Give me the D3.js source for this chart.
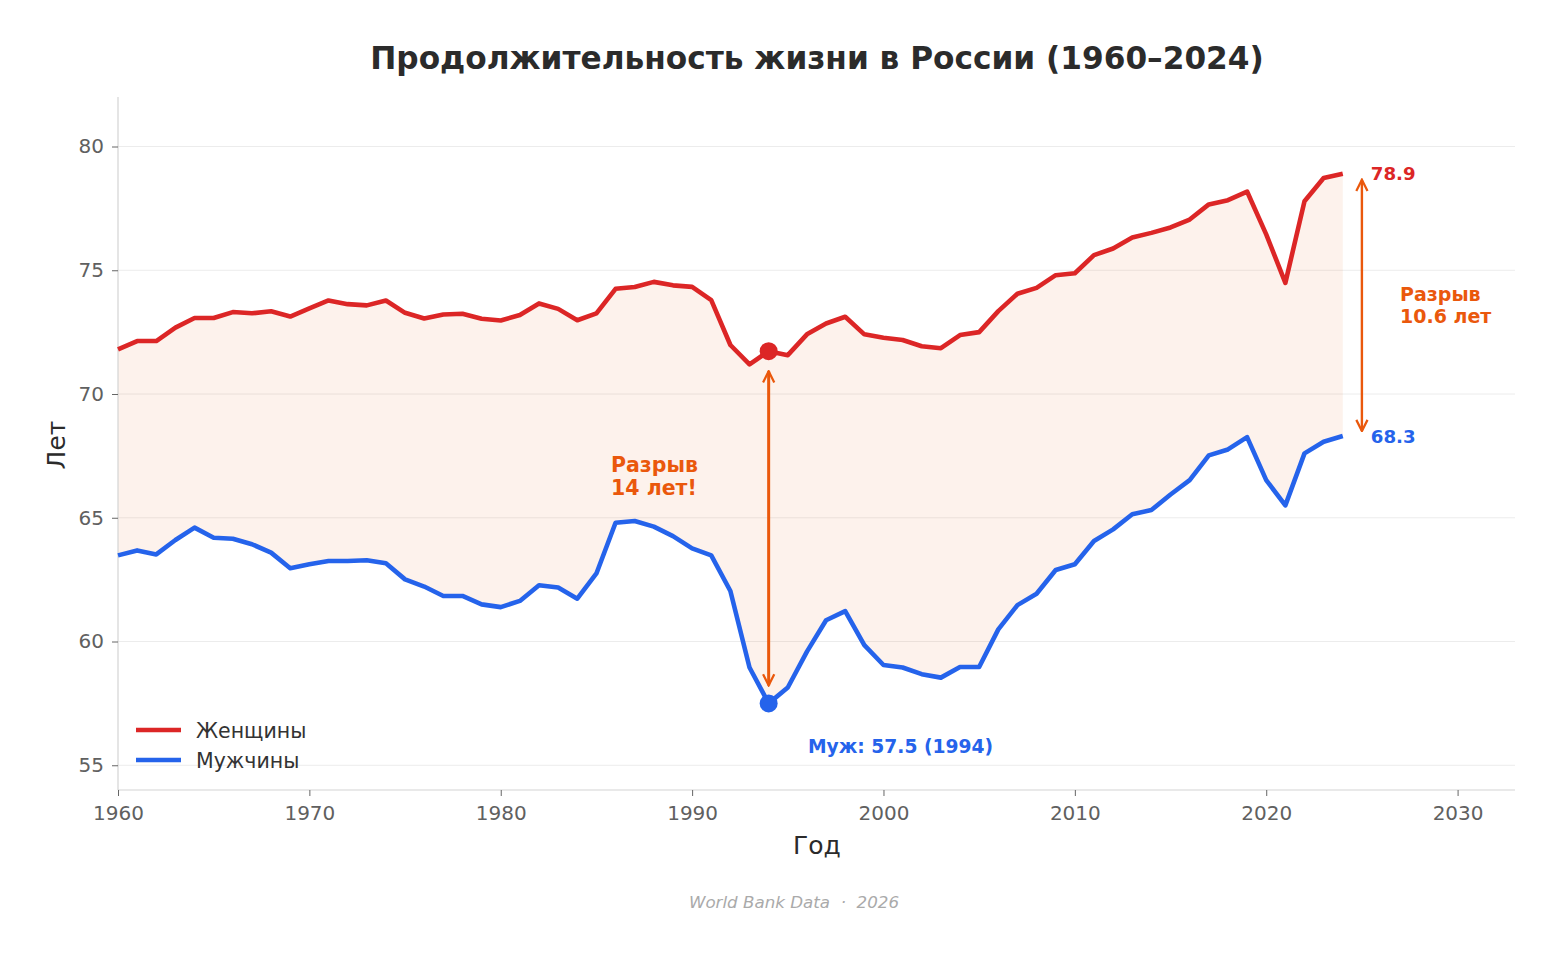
<!DOCTYPE html>
<html>
<head>
<meta charset="utf-8">
<script src="https://cdn.jsdelivr.net/npm/d3@7"></script>
<style>
  body { margin: 0; background: #fff; }
  svg { display: block; font-family: "DejaVu Sans", sans-serif; }
</style>
</head>
<body>
<svg id="chart" width="1560" height="956"></svg>
<script>
// Data
var years = d3.range(1960, 2025);
var female = [71.80, 72.14, 72.14, 72.68, 73.07, 73.07, 73.31, 73.26, 73.34, 73.13,
              73.46, 73.78, 73.63, 73.58, 73.78, 73.28, 73.05, 73.21, 73.24, 73.04,
              72.97, 73.19, 73.66, 73.44, 72.98, 73.26, 74.25, 74.32, 74.53, 74.39,
              74.33, 73.79, 71.98, 71.20, 71.73, 71.57, 72.41, 72.85, 73.12, 72.41,
              72.27, 72.18, 71.93, 71.85, 72.38, 72.50, 73.35, 74.05, 74.29, 74.80,
              74.88, 75.61, 75.88, 76.32, 76.51, 76.73, 77.05, 77.66, 77.83, 78.18,
              76.45, 74.49, 77.79, 78.73, 78.90];
var male = [63.48, 63.68, 63.52, 64.10, 64.60, 64.19, 64.15, 63.93, 63.59, 62.96,
            63.12, 63.25, 63.25, 63.28, 63.16, 62.51, 62.22, 61.84, 61.84, 61.50,
            61.39, 61.64, 62.27, 62.18, 61.73, 62.75, 64.80, 64.87, 64.64, 64.26,
            63.76, 63.48, 62.04, 58.95, 57.50, 58.14, 59.59, 60.86, 61.23, 59.85,
            59.05, 58.95, 58.68, 58.54, 58.97, 58.97, 60.49, 61.47, 61.93, 62.89,
            63.12, 64.06, 64.53, 65.14, 65.31, 65.94, 66.52, 67.52, 67.76, 68.26,
            66.52, 65.50, 67.60, 68.07, 68.30];
var seriesNames = ["Женщины", "Мужчины"];
var xTicks = [1960, 1970, 1980, 1990, 2000, 2010, 2020, 2030];
var yTicks = [55, 60, 65, 70, 75, 80];

var colF = "#dc2626", colM = "#2563eb", colGap = "#ea580c";

var svg = d3.select("#chart");
var L = 118, R = 1515, T = 97, B = 790;

var x = d3.scaleLinear().domain([1960, 2033]).range([L, R]);
var y = d3.scaleLinear().domain([54, 82]).range([B, T]);

var rows = years.map(function(yr, i) { return { yr: yr, f: female[i], m: male[i] }; });

// grid
svg.append("g").selectAll("line").data(yTicks).enter().append("line")
  .attr("x1", L).attr("x2", R)
  .attr("y1", function(d) { return y(d); }).attr("y2", function(d) { return y(d); })
  .attr("stroke", "#ececec").attr("stroke-width", 1);

// gap area
var area = d3.area()
  .x(function(d) { return x(d.yr); })
  .y0(function(d) { return y(d.m); })
  .y1(function(d) { return y(d.f); });
svg.append("path").datum(rows).attr("d", area)
  .attr("fill", colGap).attr("fill-opacity", 0.08);

// axes
var xAxis = svg.append("g").attr("transform", "translate(0," + B + ")")
  .call(d3.axisBottom(x).tickValues(xTicks).tickFormat(d3.format("d")).tickSizeOuter(0).tickSize(6).tickPadding(10));
var yAxis = svg.append("g").attr("transform", "translate(" + L + ",0)")
  .call(d3.axisLeft(y).tickValues(yTicks).tickSizeOuter(0).tickSize(6).tickPadding(8));
[xAxis, yAxis].forEach(function(a) {
  a.select(".domain").attr("stroke", "#d4d4d4").attr("stroke-width", 1.2);
  a.selectAll(".tick line").attr("stroke", "#666");
  a.selectAll(".tick text").attr("fill", "#606060").style("font-size", "20px")
    .style("font-family", "DejaVu Sans");
});
yAxis.select(".domain").attr("d", "M0," + T + "V" + B);
xAxis.select(".domain").attr("d", "M" + L + ",0H" + R);

// lines
var lineF = d3.line().x(function(d) { return x(d.yr); }).y(function(d) { return y(d.f); });
var lineM = d3.line().x(function(d) { return x(d.yr); }).y(function(d) { return y(d.m); });
svg.append("path").datum(rows).attr("d", lineF)
  .attr("fill", "none").attr("stroke", colF).attr("stroke-width", 4.6).attr("stroke-linejoin", "round");
svg.append("path").datum(rows).attr("d", lineM)
  .attr("fill", "none").attr("stroke", colM).attr("stroke-width", 4.6).attr("stroke-linejoin", "round");

// arrow head
var defs = svg.append("defs");
defs.append("marker").attr("id", "ah").attr("viewBox", "0 0 10 10")
  .attr("refX", 9).attr("refY", 5).attr("markerWidth", 14).attr("markerHeight", 14)
  .attr("markerUnits", "userSpaceOnUse").attr("orient", "auto-start-reverse")
  .append("path").attr("d", "M1,1L9,5L1,9").attr("fill", "none")
  .attr("stroke", colGap).attr("stroke-width", 1.6);

// 1994 gap arrow
var i94 = years.indexOf(1994);
svg.append("line")
  .attr("x1", x(1994)).attr("x2", x(1994))
  .attr("y1", y(female[i94]) + 20).attr("y2", y(male[i94]) - 18)
  .attr("stroke", colGap).attr("stroke-width", 3)
  .attr("marker-start", "url(#ah)").attr("marker-end", "url(#ah)");

svg.append("circle").attr("cx", x(1994)).attr("cy", y(female[i94])).attr("r", 9).attr("fill", colF);
svg.append("circle").attr("cx", x(1994)).attr("cy", y(male[i94])).attr("r", 9).attr("fill", colM);

// 2025 gap arrow
var iEnd = years.length - 1;
svg.append("line")
  .attr("x1", x(2025)).attr("x2", x(2025))
  .attr("y1", y(female[iEnd]) + 6).attr("y2", y(male[iEnd]) - 5)
  .attr("stroke", colGap).attr("stroke-width", 2.4)
  .attr("marker-start", "url(#ah)").attr("marker-end", "url(#ah)");

// annotations
function txt(xp, yp, s, col, size, weight, anchor) {
  return svg.append("text").attr("x", xp).attr("y", yp).text(s)
    .attr("fill", col).style("font-size", size + "px").style("font-weight", weight || "normal")
    .attr("text-anchor", anchor || "start");
}
txt(x(2024) + 28, y(female[iEnd]) + 6.5, female[iEnd].toFixed(1), colF, 18.2, "bold");
txt(x(2024) + 28, y(male[iEnd]) + 6.5, male[iEnd].toFixed(1), colM, 18.2, "bold");
txt(1400, 301, "Разрыв", colGap, 19, "bold");
txt(1400, 323, "10.6 лет", colGap, 19, "bold");
txt(611, 472, "Разрыв", colGap, 20.5, "bold");
txt(611, 495, "14 лет!", colGap, 20.5, "bold");
txt(808, 752.5, "Муж: " + male[i94].toFixed(1) + " (1994)", colM, 18.7, "bold");

// legend
var lg = svg.append("g");
[[seriesNames[0], colF], [seriesNames[1], colM]].forEach(function(s, i) {
  var yy = 730 + i * 30;
  lg.append("line").attr("x1", 136).attr("x2", 181).attr("y1", yy).attr("y2", yy)
    .attr("stroke", s[1]).attr("stroke-width", 4.6);
  txt(196, yy + 7.5, s[0], "#333", 20.5);
});

// titles
txt(817, 69, "Продолжительность жизни в России (1960–2024)", "#2b2b2b", 31.2, "bold", "middle");
txt(817, 854, "Год", "#2b2b2b", 25, "normal", "middle");
svg.append("text").attr("transform", "translate(65,445) rotate(-90)")
  .attr("text-anchor", "middle").attr("fill", "#2b2b2b").style("font-size", "25px").text("Лет");
txt(794, 908, "World Bank Data  ·  2026", "#aaaaaa", 16.7, "normal", "middle")
  .style("font-style", "italic").attr("xml:space", "preserve").style("white-space", "pre");
</script>
</body>
</html>
